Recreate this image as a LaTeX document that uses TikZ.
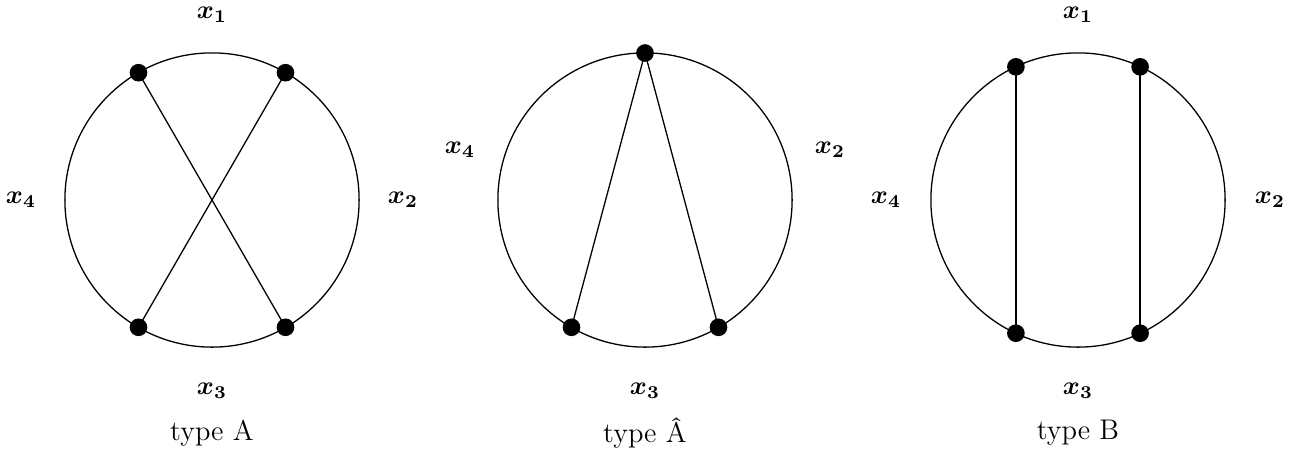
\documentclass[tikz,border=0pt]{standalone}
\usepackage{amsmath,bm}
\begin{document}
\begin{tikzpicture}[x=0.0136cm,y=-0.0136cm,
  dot/.style={circle,fill=black,inner sep=0pt,minimum size=0.24cm},
  lab/.style={inner sep=0pt},
  typelab/.style={inner sep=0pt,font=\fontsize{11pt}{13pt}\selectfont},
  ring/.style={draw=black,line width=0.5pt},
  chord/.style={draw=black,line width=0.5pt}]
\useasboundingbox (0,0) rectangle (1310,453);
% ---------- type A ----------
\coordinate (cA) at (212,200);
\draw[ring] (cA) circle[radius=2cm];
\node[dot] (a1) at (138.5,72.7) {};
\node[dot] (a2) at (285.5,72.7) {};
\node[dot] (a3) at (138.5,327.3) {};
\node[dot] (a4) at (285.5,327.3) {};
\draw[chord] (a1.center) -- (a4.center);
\draw[chord] (a2.center) -- (a3.center);
\node[lab] (lA1) at (212,15) {$\bm{x_1}$};
\node[lab] (lA2) at (403,200) {$\bm{x_2}$};
\node[lab] (lA3) at (212,391) {$\bm{x_3}$};
\node[lab] (lA4) at (21,200) {$\bm{x_4}$};
\node[typelab] (tA) at (212,433) {type A};
% ---------- type A hat ----------
\coordinate (cH) at (645,200);
\draw[ring] (cH) circle[radius=2cm];
\node[dot] (h1) at (645,53) {};
\node[dot] (h2) at (571.5,327.3) {};
\node[dot] (h3) at (718.5,327.3) {};
\draw[chord] (h1.center) -- (h2.center);
\draw[chord] (h1.center) -- (h3.center);
\node[lab] (lH2) at (830,150) {$\bm{x_2}$};
\node[lab] (lH3) at (645,391) {$\bm{x_3}$};
\node[lab] (lH4) at (460,150) {$\bm{x_4}$};
\node[typelab] (tH) at (645,433) {type \^A};
% ---------- type B ----------
\coordinate (cB) at (1078,200);
\draw[ring] (cB) circle[radius=2cm];
\node[dot] (b1) at (1015.9,66.8) {};
\node[dot] (b2) at (1140.1,66.8) {};
\node[dot] (b3) at (1015.9,333.2) {};
\node[dot] (b4) at (1140.1,333.2) {};
\draw[chord] (b1.center) -- (b3.center);
\draw[chord] (b2.center) -- (b4.center);
\node[lab] (lB1) at (1078,15) {$\bm{x_1}$};
\node[lab] (lB2) at (1270,200) {$\bm{x_2}$};
\node[lab] (lB3) at (1078,391) {$\bm{x_3}$};
\node[lab] (lB4) at (886,200) {$\bm{x_4}$};
\node[typelab] (tB) at (1078,433) {type B};
\end{tikzpicture}
\end{document}
